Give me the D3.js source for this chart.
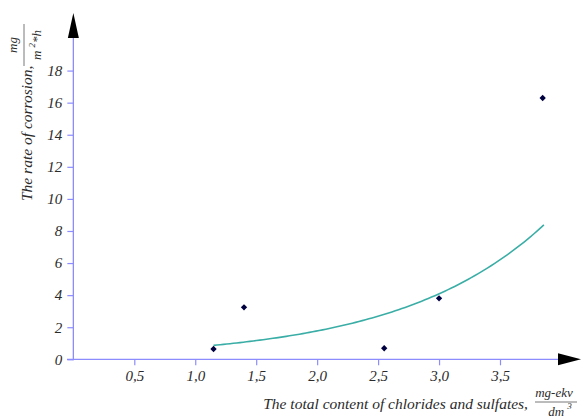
<!DOCTYPE html>
<html>
<head>
<meta charset="utf-8">
<script src="https://cdn.jsdelivr.net/npm/d3@7"></script>
<style>
  html, body { margin: 0; padding: 0; background: #fff; }
  svg { display: block; }
</style>
</head>
<body>
<svg id="chart" width="581" height="419"></svg>
<script>
// Data
const xValues = [1.15, 1.40, 2.55, 3.00, 3.85];
const yValues = [0.64, 3.24, 0.69, 3.80, 16.29];
const xTicks = [0.5, 1.0, 1.5, 2.0, 2.5, 3.0, 3.5];
const yTicks = [0, 2, 4, 6, 8, 10, 12, 14, 16, 18];
const xTickLabels = ["0,5", "1,0", "1,5", "2,0", "2,5", "3,0", "3,5"];
const yTickLabels = ["0", "2", "4", "6", "8", "10", "12", "14", "16", "18"];

const svg = d3.select("#chart");
const axisColor = "#8c8cff";
const FONT = "Liberation Serif";
const TXT = "#2b2b2b";

const x = d3.scaleLinear().domain([0, 4]).range([73.35, 73.35 + 4 * 121.9]);
const y = d3.scaleLinear().domain([0, 20]).range([359.3, 359.3 - 20 * 16.04]);

function styleText(sel, size) {
  return sel.attr("font-family", FONT).attr("font-style", "italic")
    .attr("font-size", size).attr("fill", TXT);
}

// Axes lines
svg.append("line").attr("x1", 67).attr("x2", 559).attr("y1", y(0)).attr("y2", y(0))
  .attr("stroke", axisColor).attr("stroke-width", 1.3);
svg.append("line").attr("x1", x(0)).attr("x2", x(0)).attr("y1", y(0) + 1).attr("y2", 37)
  .attr("stroke", axisColor).attr("stroke-width", 1.3);

// Arrow heads
svg.append("path").attr("d", `M${x(0)},13 L${x(0) + 5.5},38 L${x(0) - 5.5},38 Z`).attr("fill", "#000");
svg.append("path").attr("d", `M581,${y(0)} L558,${y(0) - 6} L558,${y(0) + 6} Z`).attr("fill", "#000");

// Axes with d3
const gx = svg.append("g").attr("transform", `translate(0,${y(0)})`)
  .call(d3.axisBottom(x).tickValues(xTicks).tickSize(6).tickPadding(5)
    .tickFormat((d, i) => xTickLabels[i]));
gx.attr("font-family", FONT).attr("font-size", 15);
gx.select(".domain").remove();
gx.selectAll("line").attr("stroke", axisColor).attr("stroke-width", 1.2);
styleText(gx.selectAll("text"), 15);

const gy = svg.append("g").attr("transform", `translate(${x(0)},0)`)
  .call(d3.axisLeft(y).tickValues(yTicks).tickSize(6).tickPadding(5)
    .tickFormat((d, i) => yTickLabels[i]));
gy.attr("font-family", FONT).attr("font-size", 15);
gy.select(".domain").remove();
gy.selectAll("line").attr("stroke", axisColor).attr("stroke-width", 1.2);
styleText(gy.selectAll("text"), 15);

// Exponential trend (least-squares fit of ln y on x, computed from the data)
const n = xValues.length;
const ly = yValues.map(v => Math.log(v));
const mx = d3.mean(xValues), my = d3.mean(ly);
let sxy = 0, sxx = 0;
for (let i = 0; i < n; i++) { sxy += (xValues[i] - mx) * (ly[i] - my); sxx += (xValues[i] - mx) ** 2; }
const b = sxy / sxx, a = Math.exp(my - b * mx);
const x0 = d3.min(xValues), x1 = d3.max(xValues) + 0.01;
const trend = d3.range(0, 101).map(i => {
  const xv = x0 + (x1 - x0) * i / 100;
  return [xv, a * Math.exp(b * xv)];
});
svg.append("path")
  .attr("d", d3.line().x(d => x(d[0])).y(d => y(d[1]))(trend))
  .attr("fill", "none").attr("stroke", "#3aaea6").attr("stroke-width", 1.6);

// Points
svg.selectAll("path.pt").data(xValues).join("path").attr("class", "pt")
  .attr("d", d3.symbol().type(d3.symbolSquare).size(20))
  .attr("transform", (d, i) => `translate(${x(d)},${y(yValues[i])}) rotate(45)`)
  .attr("fill", "#000040");

// Y axis title
const yt = svg.append("g").attr("transform", "translate(32,201) rotate(-90)");
styleText(yt.append("text"), 15.5).attr("x", 0).attr("y", 0).text("The rate of corrosion,");
const yf = svg.append("g").attr("transform", "translate(0,45) rotate(-90)");
styleText(yf.append("text"), 13).attr("x", 0).attr("y", 17).attr("text-anchor", "middle").text("mg");
yf.append("line").attr("x1", -21).attr("x2", 21).attr("y1", 24).attr("y2", 24)
  .attr("stroke", "#555").attr("stroke-width", 0.8);
const den = styleText(yf.append("text"), 13).attr("x", 0).attr("y", 41).attr("text-anchor", "middle");
den.append("tspan").text("m ");
den.append("tspan").attr("font-size", 9).attr("dy", -6).text("2");
den.append("tspan").attr("dy", 6).text("*h");

// X axis title
styleText(svg.append("text"), 15.5).attr("x", 528).attr("y", 409).attr("text-anchor", "end")
  .text("The total content of chlorides and sulfates,");
styleText(svg.append("text"), 13).attr("x", 554).attr("y", 397).attr("text-anchor", "middle").text("mg-ekv");
svg.append("line").attr("x1", 535).attr("x2", 577).attr("y1", 402).attr("y2", 402)
  .attr("stroke", "#555").attr("stroke-width", 0.8);
const xd = styleText(svg.append("text"), 13).attr("x", 560).attr("y", 416).attr("text-anchor", "middle");
xd.append("tspan").text("dm ");
xd.append("tspan").attr("font-size", 9).attr("dy", -7).text("3");
</script>
</body>
</html>
